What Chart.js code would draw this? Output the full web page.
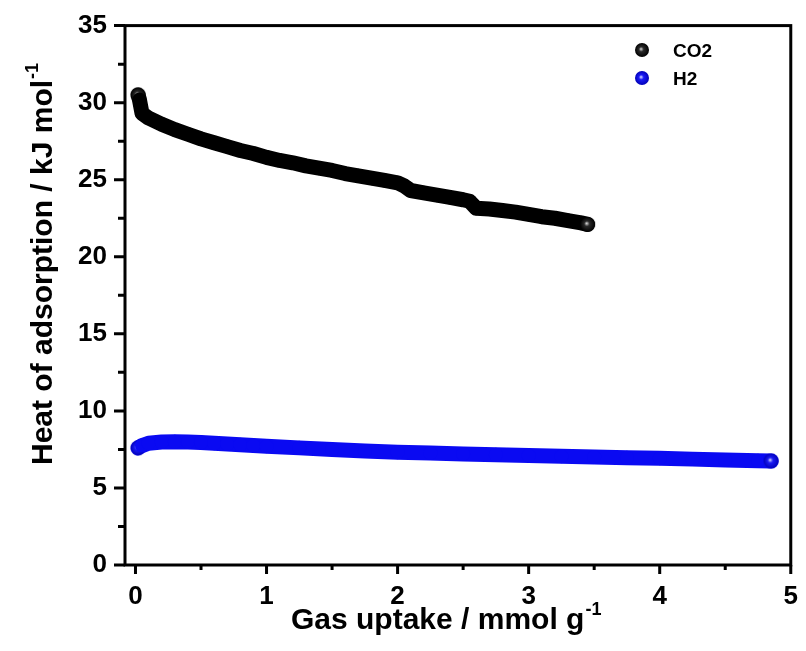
<!DOCTYPE html>
<html>
<head>
<meta charset="utf-8">
<script src="https://cdn.jsdelivr.net/npm/chart.js@4/dist/chart.umd.min.js"></script>
<style>
  body { margin: 0; background: #fff; }
  canvas { display: block; }
</style>
</head>
<body>
<canvas id="heatChart" width="806" height="651"></canvas>
<script>
// CO2 isosteric heat
let co2X = [0.02, 0.03, 0.05, 0.1, 0.2, 0.3, 0.4, 0.5, 0.6, 0.7, 0.8, 0.9, 1.0, 1.1, 1.2, 1.3, 1.4, 1.5, 1.6, 1.7, 1.8, 1.9, 2.0, 2.05, 2.1, 2.2, 2.3, 2.4, 2.5, 2.55, 2.6, 2.7, 2.8, 2.9, 3.0, 3.1, 3.2, 3.3, 3.4, 3.45];
let co2Y = [30.5, 30.2, 29.3, 29.0, 28.6, 28.25, 27.95, 27.65, 27.4, 27.15, 26.9, 26.7, 26.45, 26.25, 26.1, 25.9, 25.75, 25.6, 25.4, 25.25, 25.1, 24.95, 24.8, 24.6, 24.3, 24.15, 24.0, 23.85, 23.7, 23.6, 23.15, 23.1, 23.0, 22.9, 22.75, 22.6, 22.5, 22.35, 22.2, 22.1];

// H2
let h2X = [0.02, 0.05, 0.1, 0.2, 0.3, 0.4, 0.5, 0.6, 0.7, 0.8, 0.9, 1.0, 1.25, 1.5, 1.75, 2.0, 2.25, 2.5, 2.75, 3.0, 3.25, 3.5, 3.75, 4.0, 4.25, 4.5, 4.75, 4.85];
let h2Y = [7.6, 7.75, 7.9, 7.98, 8.0, 7.98, 7.95, 7.9, 7.85, 7.8, 7.75, 7.7, 7.6, 7.5, 7.4, 7.32, 7.26, 7.2, 7.15, 7.1, 7.05, 7.0, 6.96, 6.92, 6.87, 6.82, 6.77, 6.75];

let xMajor = [0, 1, 2, 3, 4, 5];
let xMinor = [0.5, 1.5, 2.5, 3.5, 4.5];
let yMajor = [0, 5, 10, 15, 20, 25, 30, 35];
let yMinor = [2.5, 7.5, 12.5, 17.5, 22.5, 27.5, 32.5];

const FONT = "Arial, 'Liberation Sans', sans-serif";

// shaded ball sprite
function ball(r, hi, mid, edge) {
  let c = document.createElement("canvas");
  c.width = c.height = Math.ceil(r * 2 + 2);
  let g = c.getContext("2d");
  let cx = c.width / 2;
  let grad = g.createRadialGradient(cx - r * 0.15, cx - r * 0.15, 0, cx, cx, r);
  grad.addColorStop(0, hi);
  grad.addColorStop(0.35, mid);
  grad.addColorStop(1, edge);
  g.fillStyle = grad;
  g.beginPath();
  g.arc(cx, cx, r, 0, Math.PI * 2);
  g.fill();
  return c;
}

let blackBall = ball(7.5, "#e6e6e6", "#2a2a2a", "#000");
let blueBall = ball(7.5, "#e2e6ff", "#1b1bf5", "#0000b8");
let blackLegend = ball(7, "#d8d8d8", "#2a2a2a", "#000");
let blueLegend = ball(7, "#dfe4ff", "#1b1bf5", "#0000b8");

// shaded balls only at the ends, flat fill in between (hidden in the band)
function styleFor(bright, n) {
  return (ctx) => (ctx.dataIndex === 0 || ctx.dataIndex === n - 1 ? bright : "circle");
}

const frame = {
  id: "frame",
  afterDraw(chart) {
    let c = chart.ctx;
    let a = chart.chartArea;
    let xs = chart.scales.x;
    let ys = chart.scales.y;
    c.save();
    c.strokeStyle = "#000";
    c.lineWidth = 3;
    c.strokeRect(a.left, a.top, a.right - a.left, a.bottom - a.top);

    c.beginPath();
    xMajor.forEach((v) => {
      let p = xs.getPixelForValue(v);
      c.moveTo(p, a.bottom); c.lineTo(p, a.bottom + 9);
    });
    xMinor.forEach((v) => {
      let p = xs.getPixelForValue(v);
      c.moveTo(p, a.bottom); c.lineTo(p, a.bottom + 5);
    });
    yMajor.forEach((v) => {
      let p = ys.getPixelForValue(v);
      c.moveTo(a.left, p); c.lineTo(a.left - 11, p);
    });
    yMinor.forEach((v) => {
      let p = ys.getPixelForValue(v);
      c.moveTo(a.left, p); c.lineTo(a.left - 7, p);
    });
    c.stroke();

    // axis titles
    c.fillStyle = "#000";
    c.textBaseline = "alphabetic";
    c.textAlign = "left";
    c.font = "bold 30px " + FONT;
    let xt = "Gas uptake / mmol g";
    let w = c.measureText(xt).width;
    let x0 = 291;
    c.fillText(xt, x0, 629);
    c.font = "bold 18px " + FONT;
    c.fillText("-1", x0 + w + 1, 615);

    c.save();
    c.translate(52, 465);
    c.rotate(-Math.PI / 2);
    c.font = "bold 30px " + FONT;
    let yt = "Heat of adsorption / kJ mol";
    let wy = c.measureText(yt).width;
    c.fillText(yt, 0, 0);
    c.font = "bold 18px " + FONT;
    c.fillText("-1", wy + 1, -14);
    c.restore();

    // legend
    c.font = "bold 19px " + FONT;
    c.textBaseline = "middle";
    chart.data.datasets.forEach((ds, i) => {
      let y = 50 + i * 28;
      c.drawImage(ds.legendBall, 642 - ds.legendBall.width / 2, y - ds.legendBall.height / 2);
      c.fillText(ds.label, 673, y + 2);
    });
    c.restore();
  },
};

let ctx = document.querySelector("#heatChart").getContext("2d");

new Chart(ctx, {
  type: "scatter",
  data: {
    datasets: [
      {
        label: "CO2",
        data: co2X.map((x, i) => ({ x: x, y: co2Y[i] })),
        showLine: true,
        borderColor: "#000",
        backgroundColor: "#000",
        borderWidth: 15,
        borderCapStyle: "round",
        borderJoinStyle: "round",
        pointStyle: styleFor(blackBall, co2X.length),
        pointRadius: 7,
        pointBorderWidth: 0,
        legendBall: blackLegend,
      },
      {
        label: "H2",
        data: h2X.map((x, i) => ({ x: x, y: h2Y[i] })),
        showLine: true,
        borderColor: "#0a0af2",
        backgroundColor: "#0a0af2",
        borderWidth: 15,
        borderCapStyle: "round",
        borderJoinStyle: "round",
        pointStyle: styleFor(blueBall, h2X.length),
        pointRadius: 7,
        pointBorderWidth: 0,
        legendBall: blueLegend,
      },
    ],
  },
  options: {
    responsive: false,
    animation: false,
    layout: { padding: { top: 13, right: 8, left: 0, bottom: 0 } },
    plugins: { legend: { display: false }, tooltip: { enabled: false } },
    scales: {
      x: {
        type: "linear",
        min: -0.08,
        max: 5,
        afterBuildTicks: (s) => { s.ticks = xMajor.map((v) => ({ value: v })); },
        afterFit: (s) => { s.height = 86; },
        grid: { display: false },
        border: { display: false },
        ticks: { padding: 8, color: "#000", font: { family: FONT, size: 26, weight: "bold" }, maxRotation: 0 },
      },
      y: {
        min: 0,
        max: 35,
        afterBuildTicks: (s) => { s.ticks = yMajor.map((v) => ({ value: v })); },
        afterFit: (s) => { s.width = 125; },
        grid: { display: false },
        border: { display: false },
        ticks: { padding: 10, color: "#000", font: { family: FONT, size: 26, weight: "bold" } },
      },
    },
  },
  plugins: [frame],
});
</script>
</body>
</html>
